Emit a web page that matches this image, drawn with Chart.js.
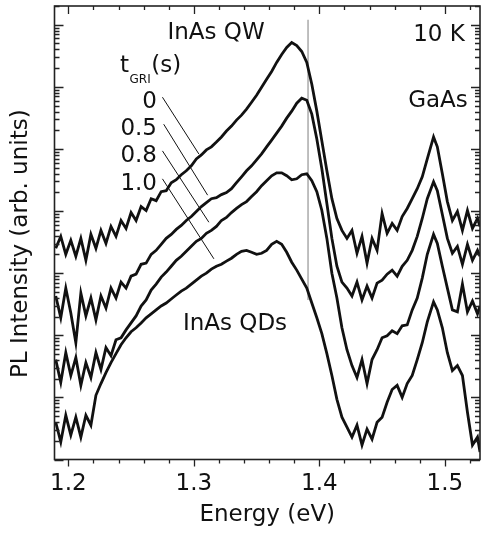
<!DOCTYPE html>
<html>
<head>
<meta charset="utf-8">
<script src="https://cdn.jsdelivr.net/npm/chart.js@4/dist/chart.umd.min.js"></script>
<style>
  html, body { margin: 0; padding: 0; background: #fff; }
  canvas { display: block; }
</style>
</head>
<body>
<canvas id="plChart" width="482" height="534"></canvas>
<script>
// PL spectra at 10 K for different growth-interruption times (log intensity)
const energy = [
    1.190, 1.194, 1.198, 1.202, 1.206, 1.210, 1.214, 1.218, 1.222, 1.226,
    1.230, 1.234, 1.238, 1.242, 1.246, 1.250, 1.254, 1.258, 1.262, 1.266,
    1.270, 1.274, 1.278, 1.282, 1.286, 1.290, 1.294, 1.298, 1.302, 1.306,
    1.310, 1.314, 1.318, 1.322, 1.326, 1.330, 1.334, 1.338, 1.342, 1.346,
    1.350, 1.354, 1.358, 1.362, 1.366, 1.370, 1.374, 1.378, 1.382, 1.386,
    1.390, 1.394, 1.398, 1.402, 1.406, 1.410, 1.414, 1.418, 1.422, 1.426,
    1.430, 1.434, 1.438, 1.442, 1.446, 1.450, 1.454, 1.458, 1.462, 1.466,
    1.470, 1.474, 1.478, 1.482, 1.486, 1.491, 1.494, 1.498, 1.502, 1.506,
    1.510, 1.514, 1.518, 1.522, 1.526, 1.528
];

// t_GRI = 0 s
const tGri0 = [
    2510, 3910, 2010, 3370, 1870, 3630, 1610, 4210, 2510, 4880,
    3020, 5650, 3910, 7050, 5250, 9460, 7050, 11800, 10200, 15800,
    14700, 20500, 21300, 28600, 31900, 38400, 44500, 53500, 69200, 80200,
    96400, 1.08e5, 1.29e5, 1.56e5, 1.94e5, 2.33e5, 2.91e5, 3.50e5, 4.37e5, 5.65e5,
    7.31e5, 9.82e5, 1.32e6, 1.77e6, 2.47e6, 3.31e6, 4.29e6, 5.15e6, 4.61e6, 3.70e6,
    2.47e6, 1.10e6, 4.06e5, 1.34e5, 4.45e4, 1.58e4, 7590, 4880, 3630, 4880,
    2090, 3910, 1450, 3630, 2330, 9120, 4370, 6310, 4880, 8170,
    11000, 15800, 22900, 35600, 69200, 1.56e5, 1.08e5, 39800, 14200, 7050,
    9820, 4880, 10200, 5250, 7590, 5650
];

// t_GRI = 0.5 s
const tGri05 = [
    429, 191, 575, 229, 75.9, 479, 205, 398, 177, 429,
    275, 575, 398, 718, 575, 895, 964, 1390, 1450, 2010,
    2330, 2910, 3630, 4210, 5060, 5860, 7050, 8170, 9820, 11800,
    13700, 15800, 16400, 18400, 19800, 22900, 28600, 35600, 44500, 53500,
    66700, 83200, 1.08e5, 1.39e5, 1.80e5, 2.33e5, 3.13e5, 4.06e5, 5.45e5, 6.55e5,
    6.08e5, 3.63e5, 1.45e5, 47900, 13200, 3630, 1290, 718, 575, 429,
    718, 370, 619, 398, 692, 773, 964, 1120, 895, 1290,
    1610, 2330, 3910, 7590, 15800, 29600, 21300, 8790, 3630, 2090,
    2700, 1390, 2910, 1610, 2330, 1870
];

// t_GRI = 0.8 s
const tGri08 = [
    40.6, 17.4, 52.5, 22.5, 43.7, 15.6, 36.3, 20.9, 52.5, 28.1,
    63.1, 47.0, 84.7, 91.2, 122, 158, 205, 296, 370, 535,
    667, 863, 1040, 1290, 1610, 1870, 2250, 2700, 3250, 3630,
    4370, 4880, 5650, 7050, 7870, 9460, 11000, 12700, 14200, 17100,
    20500, 25600, 30800, 37000, 41300, 41300, 37000, 31900, 33100, 38400,
    39800, 30800, 20500, 10200, 3630, 1000, 398, 132, 58.6, 32.5,
    20.9, 40.6, 16.7, 40.6, 58.6, 91.2, 98.2, 118, 106, 142,
    147, 256, 398, 832, 2010, 4210, 3020, 1290, 575, 256,
    238, 667, 238, 356, 221, 296
];

// t_GRI = 1.0 s
const tGri10 = [
    3.98, 1.91, 5.15, 2.47, 4.79, 2.29, 5.15, 3.56, 10.8, 16.7,
    25.1, 36.3, 50.6, 70.5, 91.2, 114, 132, 158, 191, 221,
    256, 296, 331, 384, 445, 515, 575, 667, 773, 895,
    1000, 1160, 1290, 1390, 1560, 1740, 2010, 2250, 2330, 2170,
    2010, 2090, 2330, 2910, 3250, 2910, 2170, 1500, 1120, 802,
    575, 331, 191, 106, 50.6, 22.5, 9.29, 4.79, 3.31, 2.29,
    3.56, 1.71, 3.08, 2.13, 3.98, 4.79, 8.32, 13.4, 15.6, 10.0,
    16.7, 22.5, 40.6, 75.9, 164, 344, 256, 132, 52.5, 27.0,
    32.5, 22.5, 5.75, 1.71, 2.29, 1.32
];

// leader lines from the t_GRI labels to the curves
const leaderStartE = [1.275, 1.276, 1.275, 1.275];
const leaderStartI = [6.8e5, 2.5e5, 9.3e4, 3.3e4];
const leaderEndE = [1.304, 1.311, 1.312, 1.316];
const leaderEndI = [8.3e4, 1.8e4, 6.6e3, 1.7e3];

// vertical marker
const markerE = 1.391;
const markerI = [1.2e7, 370];

const xTicks = [1.2, 1.3, 1.4, 1.5];
const xTickLabels = ['1.2', '1.3', '1.4', '1.5'];
const sampleLabels = ['0', '0.5', '0.8', '1.0'];

const FONT = '"DejaVu Sans", "Liberation Sans", Arial, sans-serif';
Chart.defaults.font.family = FONT;
Chart.defaults.color = '#111';

function series(values) {
    return energy.map((e, i) => ({ x: e, y: values[i] }));
}

const curveStyle = {
    borderColor: '#111',
    borderWidth: 2.8,
    pointRadius: 0,
    fill: false,
    tension: 0
};

const datasets = [tGri0, tGri05, tGri08, tGri10].map(v => Object.assign({ data: series(v) }, curveStyle));

leaderStartE.forEach((e, i) => {
    datasets.push({
        data: [{ x: e, y: leaderStartI[i] }, { x: leaderEndE[i], y: leaderEndI[i] }],
        borderColor: '#111',
        borderWidth: 1,
        pointRadius: 0
    });
});

datasets.push({
    data: [{ x: markerE, y: markerI[0] }, { x: markerE, y: markerI[1] }],
    borderColor: '#aaa',
    borderWidth: 1.5,
    pointRadius: 0
});

// frame, tick marks and the text annotations
const frameAndText = {
    id: 'frameAndText',
    afterDatasetsDraw(chart) {
        const { ctx, chartArea: a, scales: { x, y } } = chart;
        ctx.save();
        ctx.strokeStyle = '#222';
        ctx.lineWidth = 1.3;
        ctx.beginPath();
        for (let k = 0; ; k++) {
            const v = 1.2 + k * 0.02;
            if (v > x.max) break;
            const px = Math.round(x.getPixelForValue(v)) + 0.5;
            const major = k % 5 === 0;
            ctx.moveTo(px, a.bottom);
            ctx.lineTo(px, a.bottom + (major ? 7 : 4));
            ctx.moveTo(px, a.top);
            ctx.lineTo(px, a.top + (major ? 8 : 4));
        }
        for (let n = 0; n <= 7; n++) {
            for (let m = 1; m <= 9; m++) {
                const v = m * Math.pow(10, n);
                if (v < y.min || v > y.max) continue;
                const py = Math.round(y.getPixelForValue(v)) + 0.5;
                const len = m === 1 ? 9 : 5;
                ctx.moveTo(a.left, py);
                ctx.lineTo(a.left + len, py);
                ctx.moveTo(a.right, py);
                ctx.lineTo(a.right - len, py);
            }
        }
        ctx.stroke();
        ctx.lineWidth = 1.6;
        ctx.strokeRect(a.left, a.top, a.right - a.left, a.bottom - a.top);

        ctx.fillStyle = '#111';
        ctx.textBaseline = 'alphabetic';
        ctx.font = '23px ' + FONT;
        ctx.textAlign = 'center';
        ctx.fillText('InAs QW', 216, 39);
        ctx.fillText('10 K', 439, 41);
        ctx.fillText('GaAs', 438, 107);
        ctx.fillText('InAs QDs', 235, 330);

        ctx.textAlign = 'right';
        const baselines = [108, 135, 162, 190];
        sampleLabels.forEach((s, i) => ctx.fillText(s, 157, baselines[i]));

        // t_GRI(s)
        ctx.textAlign = 'left';
        let tx = 120;
        ctx.fillText('t', tx, 72);
        tx += ctx.measureText('t').width + 0.5;
        ctx.font = '12px ' + FONT;
        ctx.fillText('GRI', tx, 83);
        tx += ctx.measureText('GRI').width + 0.5;
        ctx.font = '23px ' + FONT;
        ctx.fillText('(s)', tx, 72);
        ctx.restore();
    }
};

new Chart(document.getElementById('plChart'), {
    type: 'line',
    data: { datasets: datasets },
    options: {
        responsive: false,
        animation: false,
        devicePixelRatio: 1,
        layout: { padding: { left: 0, right: 2, top: 6, bottom: 0 } },
        plugins: {
            legend: { display: false },
            tooltip: { enabled: false }
        },
        scales: {
            x: {
                type: 'linear',
                min: 1.189,
                max: 1.528,
                afterBuildTicks: s => { s.ticks = xTicks.map(v => ({ value: v })); },
                ticks: {
                    callback: (v, i) => xTickLabels[i],
                    font: { size: 23 },
                    color: '#111',
                    padding: 3.5,
                    maxRotation: 0,
                    autoSkip: false
                },
                grid: {
                    display: true,
                    drawOnChartArea: false,
                    drawTicks: true,
                    tickLength: 7,
                    tickColor: 'rgba(0,0,0,0)',
                    color: 'rgba(0,0,0,0)'
                },
                border: { display: false },
                title: {
                    display: true,
                    text: 'Energy (eV)',
                    font: { size: 23 },
                    color: '#111',
                    padding: { top: 0.6, bottom: 4.7 }
                }
            },
            y: {
                type: 'logarithmic',
                min: 1,
                max: 2.0e7,
                ticks: { display: false },
                grid: { display: false, drawTicks: false },
                border: { display: false },
                title: {
                    display: true,
                    // trailing spaces push the centred title down, as in the original
                    text: 'PL Intensity (arb. units)\u00a0\u00a0\u00a0',
                    font: { size: 23 },
                    color: '#111',
                    padding: { top: 7.2, bottom: 19.7 }
                }
            }
        }
    },
    plugins: [frameAndText]
});
</script>
</body>
</html>
